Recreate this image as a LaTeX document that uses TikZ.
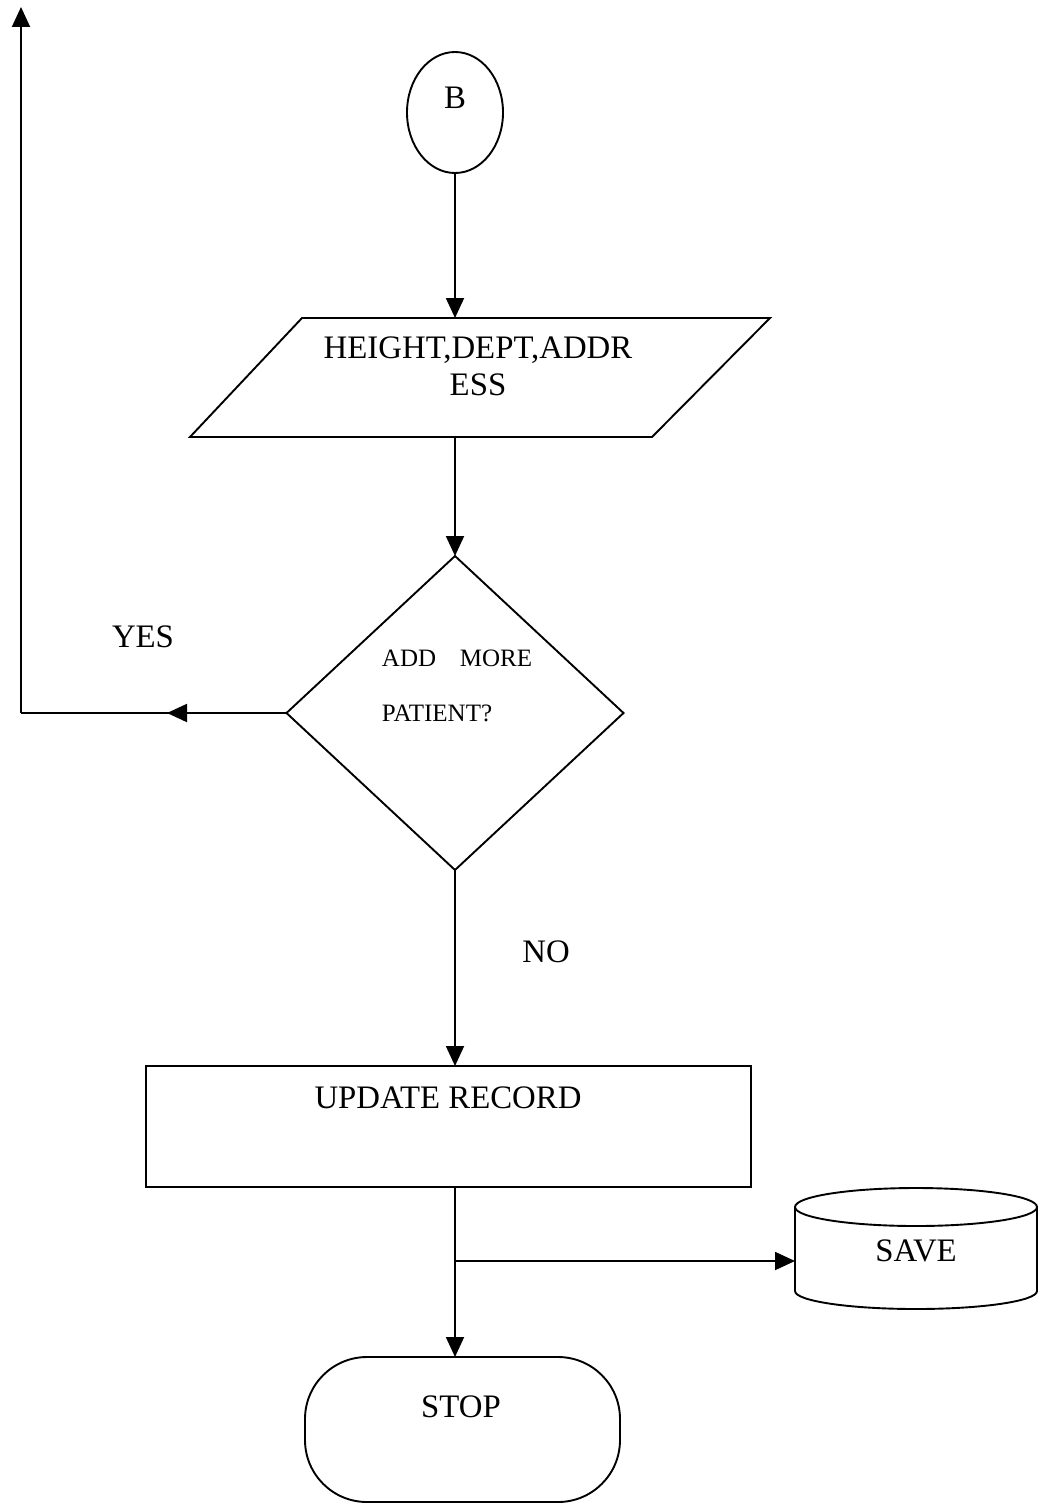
\documentclass[tikz,border=0pt]{standalone}
\usepackage{fontspec}
\setmainfont{Liberation Serif}
\usetikzlibrary{shapes.geometric,arrows.meta,calc}

\begin{document}
\begin{tikzpicture}[x=1pt,y=-1pt,line width=1.9pt,
  tip/.style={-{Triangle[length=20pt,width=18pt]}},
  txt/.style={font=\fontsize{32.8}{38}\selectfont,inner sep=0pt,anchor=base},
  smalltxt/.style={font=\fontsize{25}{29}\selectfont,inner sep=0pt,anchor=base west},
  blank/.style={inner sep=0pt,outer sep=0pt}]
\useasboundingbox (0,0) rectangle (1040,1509);

% connector circle
\node[draw,ellipse,blank,minimum width=96pt,minimum height=121pt] (b) at (455,112.5) {};
\node[txt] (bt) at (455,109) {B};

% input / output parallelogram
\node[blank,minimum width=350pt,minimum height=119pt] (io) at (480,377.5) {};
\draw (302,318) -- (770,318) -- (652,437) -- (190,437) -- cycle;
\node[txt] (io1) at (478,358) {HEIGHT,DEPT,ADDR};
\node[txt] (io2) at (478,395) {ESS};

% decision
\node[draw,diamond,blank,minimum width=337pt,minimum height=314pt] (dec) at (455,713) {};
\node[smalltxt] (q1) at (381,666) {ADD};
\node[smalltxt] (q2) at (459,666) {MORE};
\node[smalltxt] (q3) at (381,721) {PATIENT?};

% process box
\node[draw,blank,minimum width=605pt,minimum height=121pt] (upd) at (448.5,1126.5) {};
\node[txt] (updt) at (448,1108) {UPDATE RECORD};

% storage drum
\node[blank,minimum width=242pt,minimum height=121pt] (save) at (916,1248.5) {};
\draw (795,1207) -- (795,1291) arc[start angle=180,end angle=360,x radius=121pt,y radius=18pt] -- (1037,1207);
\draw (916,1207) ellipse[x radius=121pt,y radius=19pt];
\node[txt] (savet) at (916,1261) {SAVE};

% terminator
\node[draw,blank,rounded corners=62pt,minimum width=315pt,minimum height=145pt] (stop) at (462.5,1429.5) {};
\node[txt] (stopt) at (461,1417) {STOP};

% branch labels
\node[txt] (yes) at (143,647) {YES};
\node[txt] (no) at (546,962) {NO};

% connectors
\coordinate (top) at (21,7);
\coordinate (corner) at (top |- dec.west);
\coordinate (yestip) at (167,713);
\coordinate (br) at (455,1261);

\draw[tip] (b.south) -- (b.south |- io.north);
\draw[tip] (b.south |- io.south) -- (dec.north);
\draw (dec.west) -- (corner);
\draw[tip] (dec.west) -- (yestip);
\draw[tip] (corner) -- (top);
\draw[tip] (dec.south) -- (dec.south |- upd.north);
\draw[tip] (dec.south |- upd.south) -- (dec.south |- stop.north);
\draw[tip] (br) -- (br -| save.west);
\end{tikzpicture}
\end{document}
